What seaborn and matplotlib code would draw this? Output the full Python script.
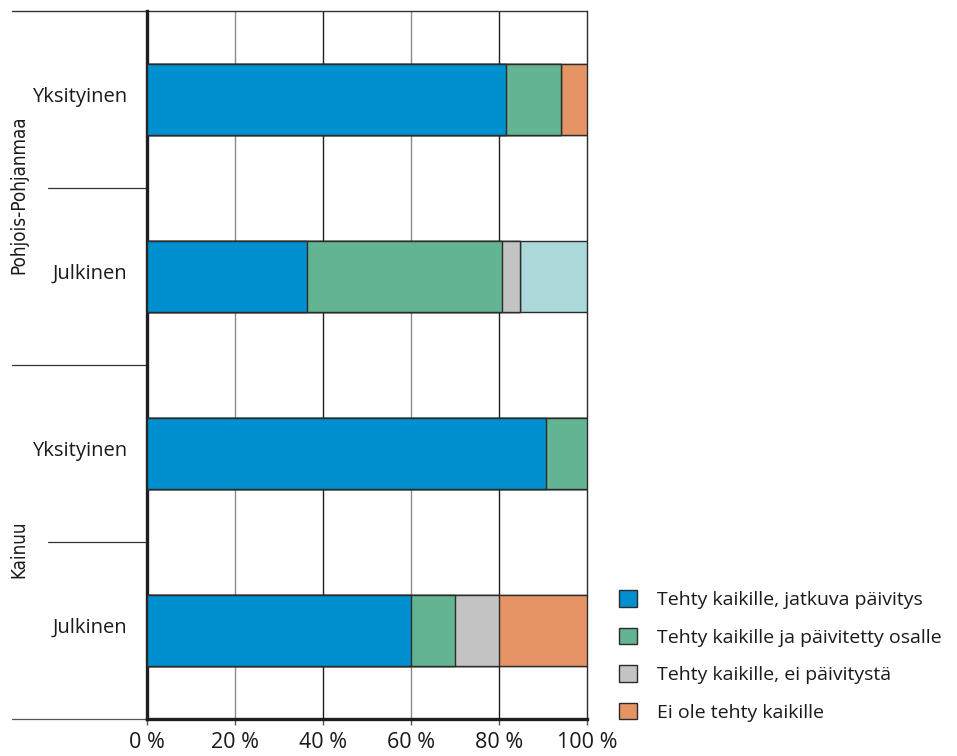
import matplotlib
matplotlib.use("Agg")
import matplotlib.pyplot as plt
from matplotlib.patches import Patch
from matplotlib.transforms import blended_transform_factory, ScaledTranslation
import numpy as np
import pandas as pd
import seaborn as sns

# Regions and sectors (top to bottom)
regions = ["Pohjois-Pohjanmaa", "Pohjois-Pohjanmaa", "Kainuu", "Kainuu"]
sectors = ["Yksityinen", "Julkinen", "Yksityinen", "Julkinen"]

# Shares (%) per response category
jatkuva = [81.5, 36.4, 90.7, 60.0]
osalle = [12.5, 44.2, 9.3, 10.1]
ei_paivitysta = [0.0, 4.1, 0.0, 9.9]
ei_tehty = [6.0, 0.0, 0.0, 20.0]
ei_tietoa = [0.0, 15.3, 0.0, 0.0]

series_names = [
    "Tehty kaikille, jatkuva päivitys",
    "Tehty kaikille ja päivitetty osalle",
    "Tehty kaikille, ei päivitystä",
    "Ei ole tehty kaikille",
    "Ei tietoa",
]
series_values = [jatkuva, osalle, ei_paivitysta, ei_tehty, ei_tietoa]
series_colors = ["#008fcf", "#63b492", "#c3c3c3", "#e69465", "#acd8da"]
legend_count = 4

xticks = [0, 20, 40, 60, 80, 100]
xtick_labels = ["0 %", "20 %", "40 %", "60 %", "80 %", "100 %"]

sns.set_theme(style="white")
plt.rcParams["font.family"] = ["Open Sans", "DejaVu Sans"]

W, H = 957, 756
fig = plt.figure(figsize=(W / 100, H / 100), dpi=100)
ax = fig.add_axes([147 / W, 1 - 719 / H, 440 / W, 708 / H])

keys = [f"{r}|{s}" for r, s in zip(regions, sectors)]
df = pd.DataFrame({"key": keys})
cum = np.zeros(len(keys))
cums = []
for vals in series_values:
    cum = cum + np.array(vals)
    cums.append(cum.copy())

# Layered stacking: draw the widest cumulative bar first
for i in range(len(series_values) - 1, -1, -1):
    df["cum"] = cums[i]
    sns.barplot(data=df, x="cum", y="key", order=keys, orient="h",
                color=series_colors[i], saturation=1, width=0.4,
                edgecolor="#2b2b2b", linewidth=1.0, ax=ax, zorder=3)

ax.set_xlim(0, 100)
ax.set_ylim(3.5, -0.5)
ax.set_xlabel("")
ax.set_ylabel("")

# Vertical gridlines with alternating shades
grid_cols = ["#8a8a8a", "#1e1e1e"]
for j, t in enumerate(xticks[1:-1]):
    ax.axvline(t, color=grid_cols[j % 2], lw=1.0, zorder=1)

ax.set_xticks(xticks)
ax.set_xticklabels(xtick_labels, fontsize=15.5, color="#1a1a1a")
ax.set_yticks(range(len(keys)))
ax.set_yticklabels(sectors, fontsize=14.5, color="#1a1a1a")
ax.tick_params(axis="x", length=4, width=1, color="#555555", pad=5, bottom=True)
ax.tick_params(axis="y", length=0, pad=14.5)

# Lift the sector labels slightly above the bar centres
lift = ScaledTranslation(0, 5 / 100, fig.dpi_scale_trans)
for lbl in ax.get_yticklabels():
    lbl.set_transform(lbl.get_transform() + lift)

ax.spines["top"].set_visible(False)
ax.spines["left"].set_linewidth(2.4)
ax.spines["left"].set_color("#1e1e1e")
ax.spines["bottom"].set_linewidth(2.4)
ax.spines["bottom"].set_color("#1e1e1e")
ax.spines["right"].set_linewidth(1.0)
ax.spines["right"].set_color("#2b2b2b")

# Separator lines in the label margin
tr = blended_transform_factory(fig.transFigure, ax.transData)
ax.plot([12 / W, 587 / W], [-0.5, -0.5], transform=tr, color="#333333", lw=1.0, clip_on=False)
ax.plot([12 / W, 147 / W], [3.5, 3.5], transform=tr, color="#555555", lw=0.9, clip_on=False)
ax.plot([12 / W, 147 / W], [1.5, 1.5], transform=tr, color="#333333", lw=0.9, clip_on=False)
for yv in [0.5, 2.5]:
    ax.plot([48 / W, 147 / W], [yv, yv], transform=tr, color="#333333", lw=0.9, clip_on=False)

# Region labels
for name, yv in [("Pohjois-Pohjanmaa", 0.5), ("Kainuu", 2.5)]:
    ax.text(18.5 / W, yv + 0.04, name, transform=tr, rotation=90, ha="center", va="center",
            fontsize=13.5, family="DejaVu Sans", fontstretch="condensed", color="#1a1a1a")

handles = [Patch(facecolor=c, edgecolor="#2b2b2b", linewidth=1.0)
           for c in series_colors[:legend_count]]
fig.legend(handles, series_names[:legend_count], loc="upper left",
           bbox_to_anchor=(619 / W, 1 - 590 / H), frameon=False, fontsize=14,
           handlelength=0.95, handleheight=0.95, handletextpad=1.0,
           labelspacing=0.95, borderpad=0, borderaxespad=0,
           labelcolor="#1a1a1a")

fig.savefig("out.png", dpi=100)
